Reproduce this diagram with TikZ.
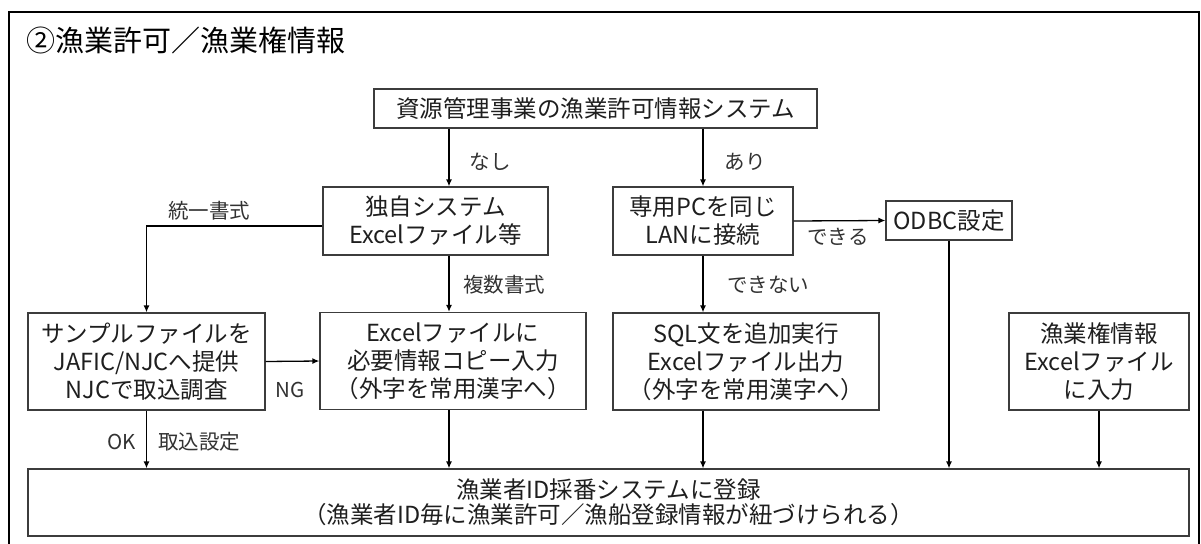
\documentclass[tikz,border=0pt]{standalone}
\usepackage{fontspec}
\setmainfont{Noto Sans CJK JP}
\usetikzlibrary{arrows.meta}

\begin{document}
\begin{tikzpicture}[x=1pt,y=1pt,yscale=-1,xscale=1,
  box/.style={draw={rgb,255:red,60;green,60;blue,60},line width=1.2pt,inner sep=0pt,align=center,text={rgb,255:red,30;green,30;blue,30},font=\fontsize{23.5}{28}\selectfont},
  lbl/.style={inner sep=0pt,text={rgb,255:red,50;green,50;blue,50},font=\fontsize{20.5}{24}\selectfont},
  arr/.style={line width=1.3pt,-{Latex[length=7pt,width=6pt]}}]
\useasboundingbox (0,0) rectangle (1201,543);

%Frame
\draw [line width=1.5pt] (9,570) -- (9,12) -- (1199,12) -- (1199,570) ;
% Title
\node (title) [anchor=west,inner sep=0pt,font=\fontsize{29}{32}\selectfont] at (26,40) {②漁業許可／漁業権情報};

% Boxes
\node (src) [box,minimum width=443,minimum height=39] at (595.5,108.5) {資源管理事業の漁業許可情報システム};
\node (own) [box,minimum width=225,minimum height=68] at (435.5,221) {独自システム\\Excelファイル等};
\node (pc) [box,minimum width=180,minimum height=68] at (703,221) {専用PCを同じ\\LANに接続};
\node (odbc) [box,minimum width=126,minimum height=39] at (949,220.5) {ODBC設定};
\node (sample) [box,minimum width=237,minimum height=97] at (146.5,361.5) {サンプルファイルを\\JAFIC/NJCへ提供\\NJCで取込調査};
\node (excel) [box,minimum width=266,minimum height=97] at (453,361) {Excelファイルに\\必要情報コピー入力\\（外字を常用漢字へ）};
\node (sql) [box,minimum width=266,minimum height=97] at (746,361.5) {SQL文を追加実行\\Excelファイル出力\\（外字を常用漢字へ）};
\node (right) [box,minimum width=180,minimum height=97] at (1099,361.5) {漁業権情報\\Excelファイル\\に入力};
\node (bottom) [box,minimum width=1161,minimum height=67,font=\fontsize{23.5}{25}\selectfont] at (608.5,502.5) {漁業者ID採番システムに登録\\（漁業者ID毎に漁業許可／漁船登録情報が紐づけられる）};

% Column of the left branch
\coordinate (colA) at (449,0);

% Connectors
\draw [arr] (src.south -| colA) -- (own.north -| colA);
\draw [arr] (src.south -| pc.north) -- (pc.north);
\draw [arr] (pc.east) -- (odbc.west);
\draw [arr] ([yshift=5pt]own.west) -| (sample.north);
\draw [arr] (own.south -| colA) -- (excel.north -| colA);
\draw [arr] (pc.south) -- (sql.north -| pc.south);
\draw [arr] (sample.east) -- (excel.west);
\draw [arr] (sample.south) -- (bottom.north -| sample.south);
\draw [arr] (excel.south -| colA) -- (bottom.north -| colA);
\draw [arr] (sql.south -| pc.south) -- (bottom.north -| pc.south);
\draw [arr] (odbc.south) -- (bottom.north -| odbc.south);
\draw [arr] (right.south) -- (bottom.north -| right.south);

% Labels
\node (nashi) [lbl] at (490,162) {なし};
\node (ari) [lbl] at (745,162) {あり};
\node (toitsu) [lbl] at (209,211) {統一書式};
\node (dekiru) [lbl] at (838,237) {できる};
\node (fukusu) [lbl] at (504,285) {複数書式};
\node (dekinai) [lbl] at (768,285) {できない};
\node (ng) [lbl] at (290,390) {NG};
\node (ok) [lbl] at (122,442) {OK};
\node (torikomi) [lbl] at (199,442) {取込設定};

\end{tikzpicture}
\end{document}
